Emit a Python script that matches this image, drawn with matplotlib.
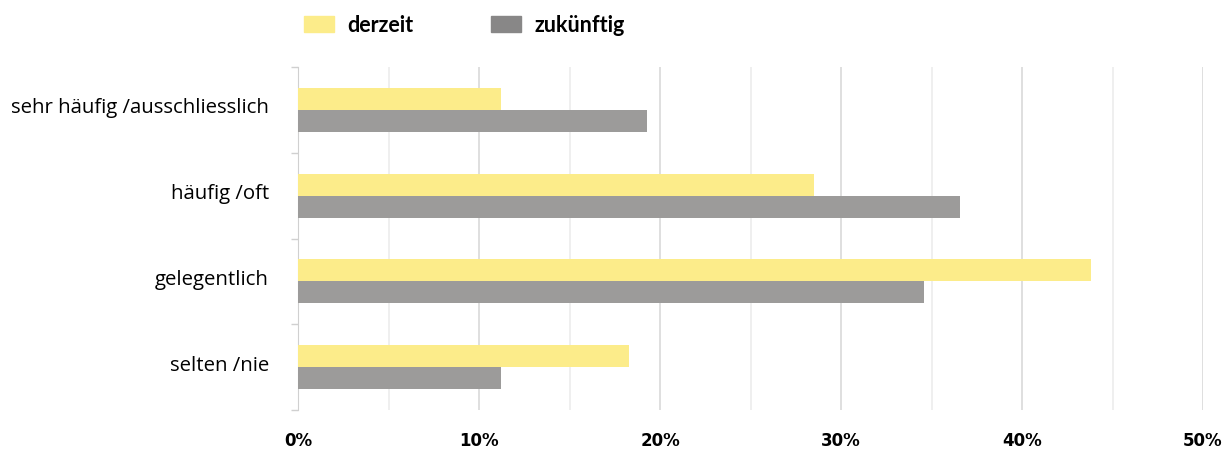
import numpy as np
import matplotlib.pyplot as plt
import matplotlib.transforms as mtransforms
from matplotlib.patches import Patch
from matplotlib.ticker import MultipleLocator

categories = ["sehr häufig /ausschliesslich", "häufig /oft", "gelegentlich", "selten /nie"]
derzeit = [11.2, 28.5, 43.8, 18.3]
zukuenftig = [19.3, 36.6, 34.6, 11.2]
series_names = ["derzeit", "zukünftig"]
xticks = [0, 10, 20, 30, 40, 50]

yellow = "#fcec8a"
grey = "#9c9b9a"
grey_legend = "#888787"

plt.rcParams['font.family'] = ['Open Sans', 'DejaVu Sans']

fig = plt.figure(figsize=(12.27, 4.49), dpi=100)
ax = fig.add_axes([298/1227, 1-410/449, (1203-298)/1227, (410-67)/449])

y = np.arange(len(categories))
h = 0.256
ax.barh(y - h/2, derzeit, height=h, color=yellow, zorder=3)
ax.barh(y + h/2, zukuenftig, height=h, color=grey, zorder=3)

ax.set_ylim(len(categories) - 0.5, -0.5)
ax.set_xlim(0, 50)

# category labels sit between boundary ticks
ax.set_yticks(y)
ax.set_yticklabels(categories, fontsize=14.7)
ax.set_yticks(np.arange(-0.5, len(categories)), minor=True)
ax.tick_params(axis='y', which='major', length=0, pad=21)
ax.tick_params(axis='y', which='minor', length=5, color="#d0d0d0", width=1)
# labels sit a little above the bar pair centre
shift = mtransforms.ScaledTranslation(0, 4/100, fig.dpi_scale_trans)
for lbl in ax.get_yticklabels():
    lbl.set_transform(lbl.get_transform() + shift)

ax.xaxis.set_minor_locator(MultipleLocator(5))
ax.set_xticks(xticks)
ax.set_xticklabels([f"{t}%" for t in xticks], fontsize=12, fontweight='bold',
                   family=['Liberation Sans Narrow', 'DejaVu Sans'])
ax.tick_params(axis='x', which='both', length=0, pad=16)
ax.grid(axis='x', which='major', color="#d9d9d9", lw=1.2, zorder=0)
ax.grid(axis='x', which='minor', color="#ececec", lw=1.2, zorder=0)

for s in ['top', 'right', 'bottom']:
    ax.spines[s].set_visible(False)
ax.spines['left'].set_color("#d0d0d0")

handles = [Patch(color=yellow), Patch(color=grey_legend)]
fig.legend(handles, series_names, loc='center left', bbox_to_anchor=(300/1227, 1-25/449),
           ncol=2, frameon=False, handlelength=1.4, handleheight=0.7,
           columnspacing=3.6, handletextpad=0.6, borderaxespad=0, borderpad=0.2,
           prop={'weight': 'bold', 'size': 15.5, 'family': ['Lato', 'DejaVu Sans']})

fig.savefig("out.png", dpi=100)
